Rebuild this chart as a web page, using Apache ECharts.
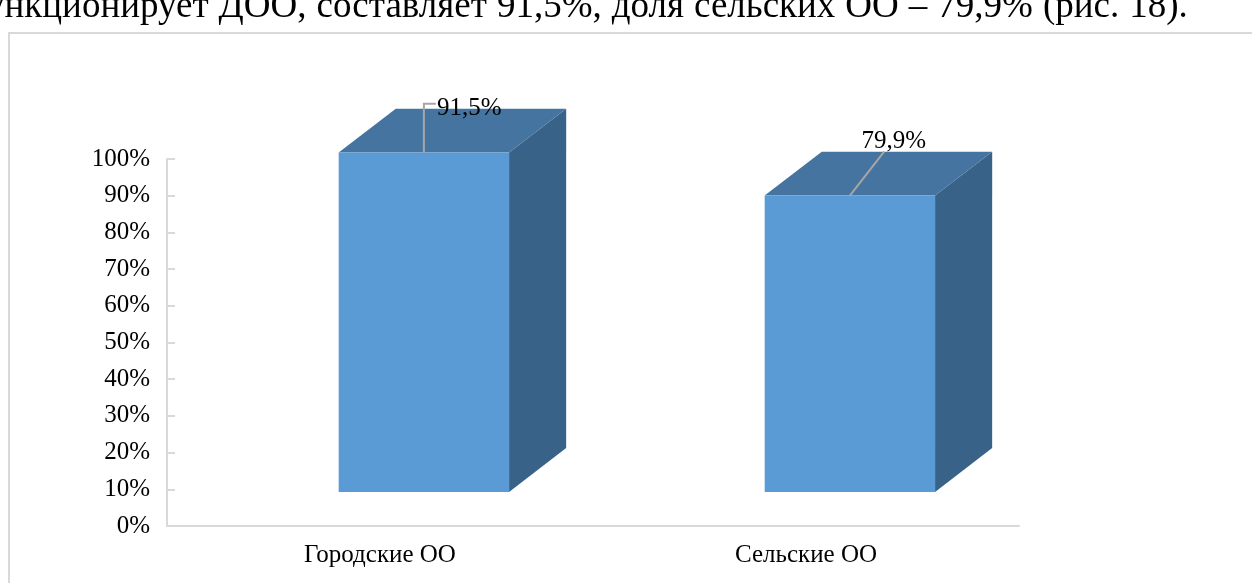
<!DOCTYPE html>
<html>
<head>
<meta charset="utf-8">
<script src="https://cdn.jsdelivr.net/npm/echarts@6/dist/echarts.min.js"></script>
<style>
html,body{margin:0;padding:0;background:#fff;}
#chart{width:1252px;height:583px;}
</style>
</head>
<body>
<div id="chart"></div>
<script>
// ---- data ----
const categories = ['Городские ОО', 'Сельские ОО'];
const values = [91.5, 79.9];
const valueLabels = ['91,5%', '79,9%'];
const yTicks = [0, 10, 20, 30, 40, 50, 60, 70, 80, 90, 100];
const headerWords = ['ункционирует', 'ДОО,', 'составляет', '91,5%,', 'доля', 'сельских', 'ОО', '–', '79,9%', '(рис.', '18).'];

const FONT = '"Liberation Serif", "Times New Roman", serif';
const FS = 25;
const chart = echarts.init(document.getElementById('chart'));

function renderBar(params, api) {
  const idx = api.value(0);
  const v = api.value(1);
  const top = api.coord([idx, v]);
  const base = api.coord([idx, 0]);
  const band = api.size([1, 0])[0];
  const w = band * 0.4;
  const x0 = top[0] - band * 0.097;
  const x1 = x0 + w;
  const dx = band * 0.134;
  const dy = -band * 0.103;
  const ty = top[1], by = base[1];
  const mid = x0 + w / 2;
  const children = [
    { type: 'polygon', shape: { points: [[x1, ty], [x1 + dx, ty + dy], [x1 + dx, by + dy], [x1, by]] },
      style: { fill: '#386287' } },
    { type: 'polygon', shape: { points: [[x0, ty], [x1, ty], [x1 + dx, ty + dy], [x0 + dx, ty + dy]] },
      style: { fill: '#44749f' } },
    { type: 'rect', shape: { x: x0, y: ty, width: w, height: by - ty },
      style: { fill: '#5b9bd5' } }
  ];
  if (params.dataIndex === 0) {
    children.push({ type: 'polyline', shape: { points: [[mid, ty], [mid, ty + dy - 5], [mid + 12, ty + dy - 5]] },
      style: { stroke: '#a6a6a6', lineWidth: 2, fill: null } });
    children.push({ type: 'text', style: { text: valueLabels[0], x: mid + 13, y: ty + dy,
      align: 'left', verticalAlign: 'middle', font: FS + 'px ' + FONT, fill: '#000' } });
  } else {
    children.push({ type: 'line', shape: { x1: mid, y1: ty, x2: mid + dx * 0.6, y2: ty + dy },
      style: { stroke: '#a6a6a6', lineWidth: 2 } });
    children.push({ type: 'text', style: { text: valueLabels[1], x: mid + 44, y: ty + dy + 2,
      align: 'center', verticalAlign: 'bottom', font: FS + 'px ' + FONT, fill: '#000' } });
  }
  return { type: 'group', children };
}

chart.setOption({
  animation: false,
  backgroundColor: '#fff',
  graphic: [
    { type: 'rect', shape: { x: 9, y: 33, width: 1300, height: 600 },
      style: { fill: null, stroke: '#d9d9d9', lineWidth: 2 }, silent: true },
    { type: 'text', left: -14, top: -11,
      style: { text: headerWords.join('{sp|}'), font: '37px ' + FONT, fill: '#000',
        rich: { sp: { width: 10 } } } }
  ],
  grid: [
    { left: 167, right: 233, top: 159, bottom: 57 },
    { left: 167, right: 233, top: 121, bottom: 91 }
  ],
  xAxis: [
    { type: 'category', gridIndex: 0, data: categories,
      axisLine: { lineStyle: { color: '#d9d9d9', width: 2 } },
      axisTick: { inside: true, length: 8, lineStyle: { color: '#d9d9d9', width: 2 } },
      axisLabel: { fontFamily: FONT, fontSize: FS, color: '#000', margin: 17 } },
    { type: 'category', gridIndex: 1, data: categories, show: false }
  ],
  yAxis: [
    { type: 'value', gridIndex: 0, min: yTicks[0], max: yTicks[yTicks.length - 1], interval: 10,
      axisLine: { show: true, lineStyle: { color: '#d9d9d9', width: 2 } },
      axisTick: { show: true, inside: true, length: 8, lineStyle: { color: '#d9d9d9', width: 2 } },
      splitLine: { show: false },
      axisLabel: { fontFamily: FONT, fontSize: FS, color: '#000', margin: 17, formatter: '{value}%' } },
    { type: 'value', gridIndex: 1, min: 0, max: 100, show: false }
  ],
  series: [
    { type: 'custom', xAxisIndex: 1, yAxisIndex: 1, renderItem: renderBar,
      data: values.map((v, i) => [i, v]) }
  ]
});
</script>
</body>
</html>
